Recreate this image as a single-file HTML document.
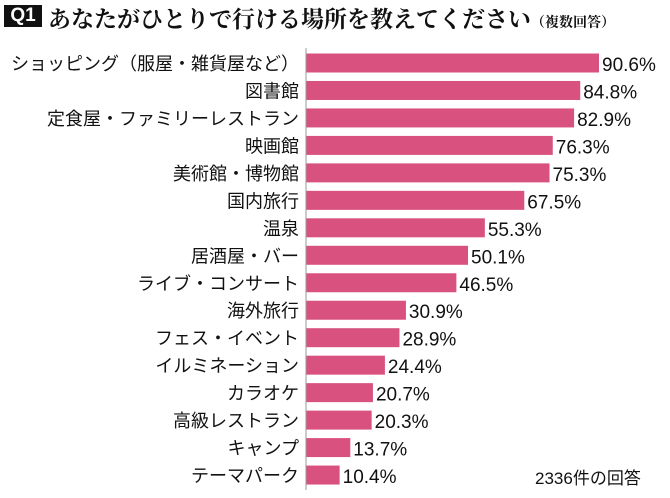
<!DOCTYPE html>
<html><head><meta charset="utf-8"><style>
body{margin:0;width:670px;height:498px;background:#fff;overflow:hidden;position:relative;font-family:"Liberation Sans","Noto Sans CJK JP",sans-serif}
#q{position:absolute;left:4px;top:5px;width:38px;height:22px;background:#111;color:#fff;font-weight:bold;font-size:19px;line-height:22px;text-align:center}
#t{position:absolute;left:48px;top:1px;font-family:"Liberation Serif","Noto Serif CJK SC",serif;font-size:23px;font-weight:bold;color:#111;white-space:nowrap}
#t small{font-size:14px}
#n{position:absolute;left:535px;top:464px;font-size:17px;color:#111}
</style></head><body>
<div id="q">Q1</div>
<div id="t">あなたがひとりで行ける場所を教えてください<small>（複数回答）</small></div>
<svg id="c" width="670" height="498" style="position:absolute;left:0;top:0"></svg>
<div id="n">2336件の回答</div>
<script>
const categories=["ショッピング（服屋・雑貨屋など）","図書館","定食屋・ファミリーレストラン","映画館","美術館・博物館","国内旅行","温泉","居酒屋・バー","ライブ・コンサート","海外旅行","フェス・イベント","イルミネーション","カラオケ","高級レストラン","キャンプ","テーマパーク"];
const values=[90.6,84.8,82.9,76.3,75.3,67.5,55.3,50.1,46.5,30.9,28.9,24.4,20.7,20.3,13.7,10.4];
const valueLabels=["90.6%","84.8%","82.9%","76.3%","75.3%","67.5%","55.3%","50.1%","46.5%","30.9%","28.9%","24.4%","20.7%","20.3%","13.7%","10.4%"];
const svg=document.getElementById('c');const NS="http://www.w3.org/2000/svg";
const x0=306,k=3.234,y0=63,step=27.47,bh=19;
const xs=v=>k*v, ys=i=>y0+i*step;
function mk(t,a){const e=document.createElementNS(NS,t);for(const p in a)e.setAttribute(p,a[p]);svg.appendChild(e);return e;}
categories.forEach((c,i)=>{
 const r=mk('rect',{x:x0,y:ys(i)-bh/2,width:xs(values[i]),height:bh,fill:'#d9527f'});
 
 
 const l=mk('text',{x:299,y:ys(i)+7,'text-anchor':'end','font-size':18,fill:'#111'});l.textContent=c;
 
 
 const v=mk('text',{x:x0+xs(values[i])+3,y:ys(i)+8,'font-size':19,fill:'#111'});v.textContent=valueLabels[i];
 
 
});
const ax=mk('line',{x1:x0,x2:x0,y1:48,y2:490,stroke:'#999','stroke-width':1});


</script>
</body></html>
